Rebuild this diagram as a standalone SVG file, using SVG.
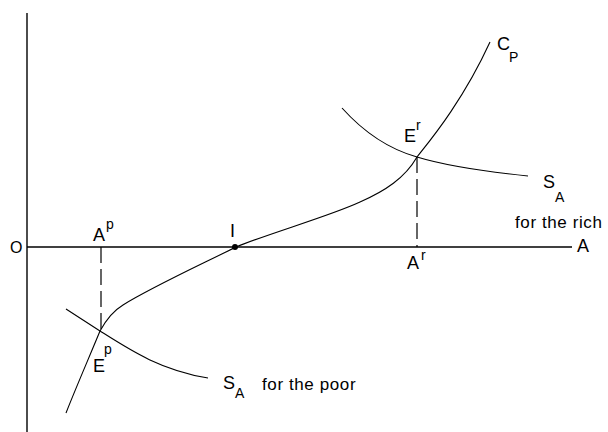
<svg xmlns="http://www.w3.org/2000/svg" width="608" height="432" viewBox="0 0 608 432">
<style>
.ax{stroke:#000;stroke-width:1.4;fill:none}
.cv{stroke:#000;stroke-width:1.1;fill:none}
.da{stroke:#000;stroke-width:1.2;fill:none;stroke-dasharray:16 6}
text{font-family:"Liberation Sans",Arial,sans-serif;fill:#000}
.lb{font-size:18px}
.sm{font-size:14px}
.tx{font-size:17px;letter-spacing:0.6px}
</style>
<rect width="608" height="432" fill="#fff"/>
<g id="axes">
<line class="ax" x1="27" y1="13" x2="27" y2="432"/>
<line class="ax" x1="27" y1="247" x2="572" y2="247"/>
<text class="lb" x="10" y="253" style="font-size:16px">O</text>
<text class="lb" x="577" y="252">A</text>
</g>
<g id="curve-cp">
<path class="cv" d="M66,413 C75,390 88,360 100,331 C106,320 113,311 123,305 C150,288 200,265 236,247 C270,233 330,216 360,202 C385,191 405,178 417,157 C428,143 462,103 490,42"/>
<text class="lb" x="497" y="50">C</text>
<text class="sm" x="509" y="62">P</text>
</g>
<g id="curve-sa-rich">
<path class="cv" d="M342,108 C360,128 385,148 417,157 C440,164 470,170 528,176"/>
<text class="lb" x="543" y="188">S</text>
<text class="sm" x="555" y="202">A</text>
<text class="tx" x="515" y="228">for the rich</text>
</g>
<g id="curve-sa-poor">
<path class="cv" d="M66,309 L100,331 C130,350 160,370 208,378"/>
<text class="lb" x="223" y="389">S</text>
<text class="sm" x="235" y="398">A</text>
<text class="tx" x="262" y="390">for the poor</text>
</g>
<g id="point-I">
<circle cx="235" cy="247" r="3"/>
<text class="lb" x="230" y="237">I</text>
</g>
<g id="point-Er">
<line class="da" x1="417" y1="157" x2="417" y2="247"/>
<text class="lb" x="404" y="142">E</text>
<text class="sm" x="416" y="130">r</text>
</g>
<g id="point-Ar">
<text class="lb" x="407" y="269">A</text>
<text class="sm" x="421" y="260">r</text>
</g>
<g id="point-Ep">
<line class="da" x1="101" y1="247" x2="101" y2="331"/>
<text class="lb" x="93" y="372">E</text>
<text class="sm" x="104" y="354">p</text>
</g>
<g id="point-Ap">
<text class="lb" x="93" y="241">A</text>
<text class="sm" x="106" y="229">p</text>
</g>
</svg>
